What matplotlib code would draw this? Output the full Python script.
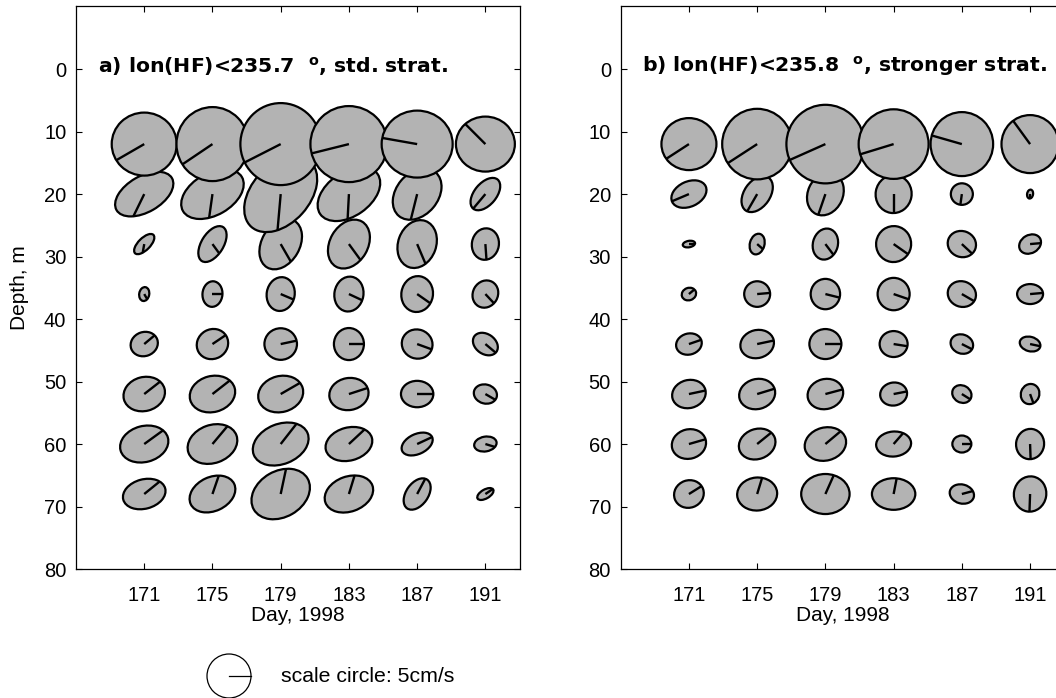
import numpy as np
import matplotlib
matplotlib.use("Agg")
import matplotlib.pyplot as plt
from matplotlib.patches import Ellipse
from matplotlib.lines import Line2D
from matplotlib.transforms import ScaledTranslation

plt.rcParams['font.family'] = ['Liberation Sans', 'DejaVu Sans']
plt.rcParams['mathtext.fontset'] = 'dejavusans'

days = [171, 175, 179, 183, 187, 191]
depths = [12, 20, 28, 36, 44, 52, 60, 68]

# tidal ellipse parameters, rows = depth, cols = day
# semi-major / semi-minor axes in cm/s, inclination and phase-line direction in degrees
major_a = [
    [7.39, 8.41, 9.32, 8.75, 8.07, 6.70],
    [7.27, 7.73, 10.0, 7.95, 6.48, 4.32],
    [2.95, 4.55, 6.14, 5.91, 5.57, 3.59],
    [1.59, 2.91, 3.86, 3.98, 4.09, 3.18],
    [3.14, 3.64, 3.70, 3.64, 3.52, 3.07],
    [4.77, 5.23, 5.18, 4.48, 3.68, 2.66],
    [5.57, 5.80, 6.59, 5.41, 3.75, 2.57],
    [4.93, 5.45, 7.05, 5.68, 3.98, 2.05],
]
minor_a = [
    [7.16, 8.18, 9.16, 8.64, 7.61, 6.25],
    [4.09, 4.77, 6.59, 5.00, 4.77, 2.50],
    [1.36, 2.50, 4.32, 4.32, 4.32, 3.07],
    [1.14, 2.27, 3.18, 3.30, 3.59, 2.84],
    [2.73, 3.36, 3.59, 3.41, 3.30, 2.27],
    [3.86, 4.09, 4.09, 3.64, 3.00, 2.16],
    [4.09, 4.32, 4.55, 3.75, 2.27, 1.68],
    [3.34, 3.86, 5.23, 3.98, 2.50, 1.02],
]
incl_a = [
    [0, 90, 90, 0, 0, 0],
    [30, 30, 48, 35, 50, 50],
    [45, 58, 60, 60, 70, 80],
    [80, 85, 80, 80, 80, 60],
    [20, 30, 0, 90, -20, -35],
    [15, 15, 15, 10, 0, -15],
    [15, 20, 22, 15, 25, 10],
    [15, 25, 30, 20, 55, 30],
]
phase_a = [
    [210, 214, 207, 194, 170, 135],
    [244, 262, 265, 267, 256, 230],
    [260, 306, 300, 306, 293, 274],
    [300, 0, 337, 335, 325, 313],
    [40, 34, 12, 0, 340, 320],
    [38, 38, 30, 18, 0, 330],
    [36, 50, 52, 43, 25, 343],
    [39, 71, 78, 73, 62, 34],
]

major_b = [
    [6.25, 8.02, 8.93, 7.95, 7.27, 6.59],
    [4.20, 4.55, 5.00, 4.32, 2.50, 1.02],
    [1.41, 2.39, 3.57, 4.09, 3.25, 2.61],
    [1.66, 2.95, 3.45, 3.68, 3.25, 2.95],
    [2.95, 3.86, 3.64, 3.18, 2.61, 2.39],
    [3.86, 4.14, 4.09, 3.07, 2.27, 2.32],
    [3.93, 4.25, 4.77, 3.98, 2.16, 3.45],
    [3.41, 4.55, 5.50, 4.93, 2.80, 4.02],
]
minor_b = [
    [5.91, 7.95, 8.86, 7.91, 7.11, 6.50],
    [2.84, 2.95, 3.98, 4.09, 2.45, 0.68],
    [0.73, 1.66, 2.84, 3.98, 2.95, 2.05],
    [1.41, 2.91, 3.34, 3.64, 2.89, 2.27],
    [2.39, 3.18, 3.41, 2.95, 2.16, 1.64],
    [3.18, 3.41, 3.41, 2.61, 1.93, 2.09],
    [3.34, 3.41, 3.75, 2.84, 1.93, 3.18],
    [3.11, 3.75, 4.55, 3.59, 2.16, 3.68],
]
incl_b = [
    [0, 90, 90, 0, 90, 90],
    [25, 55, 65, 80, 0, 80],
    [10, 75, 75, 80, -20, 30],
    [20, 0, 90, 90, -20, 0],
    [15, 15, 0, 0, -20, -15],
    [15, 15, 15, 10, -30, 70],
    [15, 20, 15, 5, 0, 80],
    [20, 5, 0, 0, -15, 80],
]
phase_b = [
    [213, 213, 204, 197, 164, 126],
    [203, 240, 251, 270, 262, 270],
    [0, 319, 307, 325, 317, 5],
    [40, 5, 346, 341, 330, 5],
    [19, 12, 0, 351, 333, 348],
    [12, 17, 15, 11, 328, 290],
    [16, 39, 40, 49, 0, 272],
    [32, 73, 66, 79, 15, 268],
]

titles = [r'a) lon(HF)<235.7  $^{\mathbf{o}}$, std. strat.',
          r'b) lon(HF)<235.8  $^{\mathbf{o}}$, stronger strat.']

DPI = 100
CMS_TO_IN = 4.4 / DPI   # plotted size of 1 cm/s, inches
SCALE_SPEED = 5.0       # cm/s
FILL = '#b3b3b3'


def draw_ellipses(ax, major, minor, incl, phase):
    fig = ax.figure
    z = 2.0
    # deepest row first so shallower ellipses sit on top
    for i in range(len(depths) - 1, -1, -1):
        for j, day in enumerate(days):
            a, b = major[i][j], minor[i][j]
            th, al = incl[i][j], phase[i][j]
            trans = fig.dpi_scale_trans + ScaledTranslation(day, depths[i], ax.transData)
            ax.add_patch(Ellipse((0, 0), 2 * a * CMS_TO_IN, 2 * b * CMS_TO_IN, angle=th,
                                 transform=trans, fc=FILL, ec='k', lw=1.6,
                                 zorder=z, clip_on=False))
            d = np.deg2rad(al - th)
            r = a * b / np.hypot(b * np.cos(d), a * np.sin(d)) * CMS_TO_IN
            ax.add_line(Line2D([0, r * np.cos(np.deg2rad(al))], [0, r * np.sin(np.deg2rad(al))],
                               transform=trans, color='k', lw=1.7, zorder=z + 0.5,
                               clip_on=False, solid_capstyle='butt'))
            z += 1


fig = plt.figure(figsize=(10.56, 6.98), dpi=DPI)
ax1 = fig.add_axes([76 / 1056, 129 / 698, 443.5 / 1056, 563 / 698])
ax2 = fig.add_axes([620.7 / 1056, 129 / 698, 443.5 / 1056, 563 / 698])

panels = [(ax1, major_a, minor_a, incl_a, phase_a, 0.05),
          (ax2, major_b, minor_b, incl_b, phase_b, 0.048)]
for k, (ax, mj, mn, inc, ph, tx) in enumerate(panels):
    draw_ellipses(ax, mj, mn, inc, ph)
    ax.set_xlim(167, 193)
    ax.set_ylim(80, -10.1)
    ax.set_xticks(days)
    ax.set_yticks(range(0, 81, 10))
    ax.tick_params(direction='in', top=True, right=True, length=4, width=0.8,
                   labelsize=14.5, color='k')
    ax.tick_params(axis='x', pad=12)
    ax.tick_params(axis='y', pad=7)
    for sp in ax.spines.values():
        sp.set_linewidth(0.9)
    ax.set_xlabel('Day, 1998', fontsize=15, labelpad=1)
    ax.text(tx, 0.893, titles[k], transform=ax.transAxes, fontsize=14.7,
            family='DejaVu Sans', fontweight='bold', va='center', ha='left', zorder=100)

ax1.set_ylabel('Depth, m', fontsize=15, labelpad=11)

# velocity scale circle below panel a
sc_trans = fig.dpi_scale_trans + ScaledTranslation(229 / 1056, 1 - 676 / 698, fig.transFigure)
r_sc = SCALE_SPEED * CMS_TO_IN
fig.add_artist(Ellipse((0, 0), 2 * r_sc, 2 * r_sc, transform=sc_trans,
                       fc='white', ec='k', lw=0.9))
fig.add_artist(Line2D([0, r_sc], [0, 0], transform=sc_trans, color='k', lw=0.9))
fig.text(281 / 1056, 1 - 676 / 698, 'scale circle: %gcm/s' % SCALE_SPEED,
         fontsize=15.3, va='center', ha='left')

fig.savefig('out.png', dpi=DPI)
